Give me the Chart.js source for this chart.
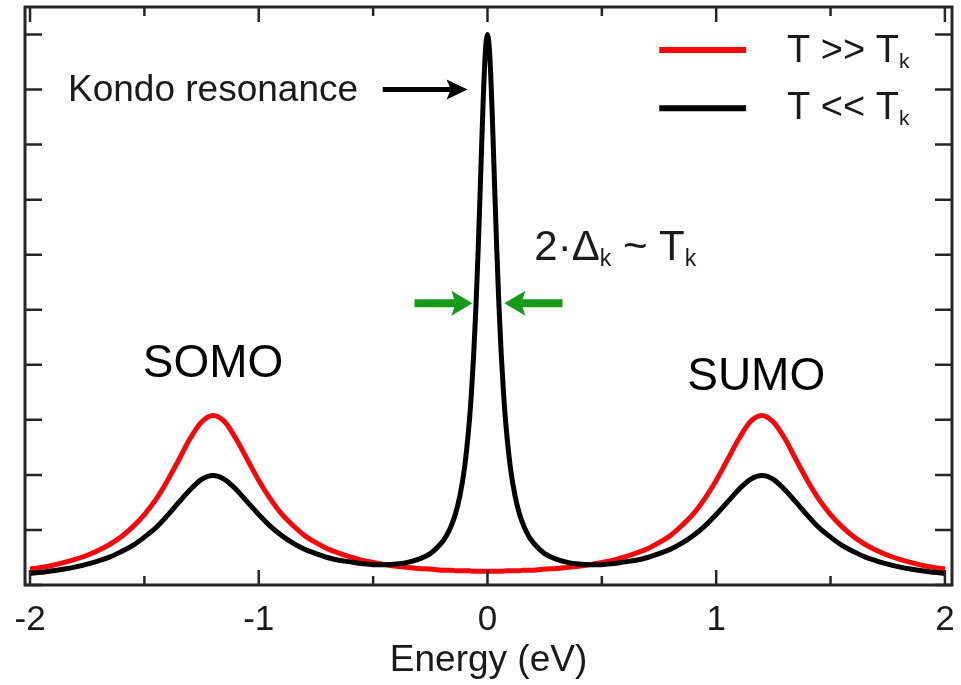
<!DOCTYPE html>
<html><head><meta charset="utf-8">
<script src="https://cdn.jsdelivr.net/npm/chart.js@4/dist/chart.umd.min.js"></script>
<style>html,body{margin:0;padding:0;background:#fff}canvas{display:block}</style>
</head><body>
<canvas id="c" width="961" height="685"></canvas>
<script>
// Energy grid (eV)
const energy = [-2.0,-1.95,-1.9,-1.85,-1.8,-1.75,-1.7,-1.65,-1.6,-1.55,-1.5,-1.45,-1.4,-1.35,-1.3,-1.25,-1.2,-1.15,-1.1,-1.05,-1.0,-0.95,-0.9,-0.85,-0.8,-0.75,-0.7,-0.65,-0.6,-0.55,-0.5,-0.45,-0.4,-0.35,-0.3,-0.25,-0.2,-0.18,-0.16,-0.14,-0.12,-0.1,-0.08,-0.07,-0.06,-0.05,-0.04,-0.03,-0.02,-0.01,
  0,0.01,0.02,0.03,0.04,0.05,0.06,0.07,0.08,0.1,0.12,0.14,0.16,0.18,0.2,0.25,0.3,0.35,0.4,0.45,0.5,0.55,0.6,0.65,0.7,0.75,0.8,0.85,0.9,0.95,1.0,1.05,1.1,1.15,1.2,1.25,1.3,1.35,1.4,1.45,1.5,1.55,1.6,1.65,1.7,1.75,1.8,1.85,1.9,1.95,2.0];
// T >> Tk (red)
const dosHighT = [0.29,0.32,0.36,0.41,0.47,0.54,0.63,0.74,0.88,1.06,1.28,1.55,1.89,2.27,2.66,2.96,3.08,2.97,2.66,2.28,1.90,1.57,1.29,1.08,0.90,0.77,0.66,0.58,0.51,0.45,0.41,0.37,0.34,0.32,0.30,0.29,0.27,0.27,0.27,0.26,0.26,0.26,0.26,0.25,0.25,0.25,0.25,0.25,0.25,0.25,
  0.25,0.25,0.25,0.25,0.25,0.25,0.25,0.25,0.26,0.26,0.26,0.26,0.27,0.27,0.27,0.29,0.30,0.32,0.34,0.37,0.41,0.45,0.51,0.58,0.66,0.77,0.90,1.08,1.29,1.57,1.90,2.28,2.66,2.97,3.08,2.96,2.66,2.27,1.89,1.55,1.28,1.06,0.88,0.74,0.63,0.54,0.47,0.41,0.36,0.32,0.29];
// T << Tk (black)
const dosLowT = [0.21,0.23,0.26,0.29,0.33,0.38,0.44,0.51,0.61,0.72,0.87,1.04,1.26,1.50,1.73,1.92,1.99,1.92,1.74,1.51,1.28,1.07,0.90,0.76,0.65,0.57,0.50,0.45,0.42,0.39,0.37,0.37,0.38,0.41,0.47,0.57,0.77,0.89,1.06,1.29,1.63,2.14,2.94,3.50,4.21,5.09,6.17,7.40,8.65,9.63,
  10.0,9.63,8.65,7.40,6.17,5.09,4.21,3.50,2.94,2.14,1.63,1.29,1.06,0.89,0.77,0.57,0.47,0.41,0.38,0.37,0.37,0.39,0.42,0.45,0.50,0.57,0.65,0.76,0.90,1.07,1.28,1.51,1.74,1.92,1.99,1.92,1.73,1.50,1.26,1.04,0.87,0.72,0.61,0.51,0.44,0.38,0.33,0.29,0.26,0.23,0.21];

const xMajorTicks = [-2,-1,0,1,2];
const xMajorLabels = ['-2','-1','0','1','2'];
const xMinorTicks = [-1.5,-0.5,0.5,1.5];
const yTicks = [0,1,2,3,4,5,6,7,8,9,10];
const seriesNames = ['T >> T','T << T'];
const seriesSub = 'k';
const xTitle = 'Energy (eV)';

const FONT = '"Liberation Sans", Arial, Helvetica, sans-serif';

function drawSubText(ctx, parts, x, y, size, subSize, subDrop, color, align) {
  ctx.fillStyle = color;
  ctx.textBaseline = 'alphabetic';
  ctx.textAlign = 'left';
  let total = 0;
  parts.forEach(p => { ctx.font = (p.sub ? subSize : size) + 'px ' + FONT; total += ctx.measureText(p.t).width; });
  let cx = align === 'center' ? x - total / 2 : x;
  parts.forEach(p => {
    ctx.font = (p.sub ? subSize : size) + 'px ' + FONT;
    ctx.fillText(p.t, cx, p.sub ? y + subDrop : y);
    cx += ctx.measureText(p.t).width;
  });
}
function arrow(ctx, x0, y0, x1, y1, color, w, hl, hw) {
  const dir = Math.sign(x1 - x0);
  ctx.fillStyle = color; ctx.strokeStyle = color;
  ctx.lineWidth = w; ctx.lineCap = 'butt';
  ctx.beginPath(); ctx.moveTo(x0, y0); ctx.lineTo(x1 - dir * hl * 0.8, y1); ctx.stroke();
  ctx.beginPath();
  ctx.moveTo(x1, y1);
  ctx.lineTo(x1 - dir * hl, y1 - hw / 2);
  ctx.lineTo(x1 - dir * hl * 0.8, y1);
  ctx.lineTo(x1 - dir * hl, y1 + hw / 2);
  ctx.closePath(); ctx.fill();
}

const decor = {
  id: 'decor',
  afterDatasetsDraw(chart) {
    const {ctx, chartArea: a, scales: {x, y}} = chart;
    const X = v => x.getPixelForValue(v), Y = v => y.getPixelForValue(v);
    ctx.save();
    // frame
    ctx.strokeStyle = '#262626';
    ctx.lineWidth = 3;
    ctx.strokeRect(a.left, a.top, a.right - a.left, a.bottom - a.top);
    ctx.lineWidth = 2.5;
    ctx.beginPath();
    xMajorTicks.forEach(v => { const p = X(v); ctx.moveTo(p, a.bottom); ctx.lineTo(p, a.bottom - 15); ctx.moveTo(p, a.top); ctx.lineTo(p, a.top + 15); });
    xMinorTicks.forEach(v => { const p = X(v); ctx.moveTo(p, a.bottom); ctx.lineTo(p, a.bottom - 9); ctx.moveTo(p, a.top); ctx.lineTo(p, a.top + 9); });
    yTicks.forEach(v => { const p = Y(v); ctx.moveTo(a.left, p); ctx.lineTo(a.left + 17, p); ctx.moveTo(a.right, p); ctx.lineTo(a.right - 17, p); });
    ctx.stroke();

    // legend
    const ds = chart.data.datasets;
    ctx.lineWidth = 6; ctx.lineCap = 'butt';
    [[ds[0].borderColor, 9.72, 9.50, seriesNames[0]], [ds[1].borderColor, 8.66, 8.465, seriesNames[1]]].forEach(([col, ly, ty, name]) => {
      ctx.strokeStyle = col;
      ctx.beginPath(); ctx.moveTo(X(0.751), Y(ly)); ctx.lineTo(X(1.131), Y(ly)); ctx.stroke();
      drawSubText(ctx, [{t: name}, {t: seriesSub, sub: true}], X(1.31), Y(ty), 38, 21, 6, '#1a1a1a', 'left');
    });

    // annotations
    ctx.font = '37px ' + FONT; ctx.fillStyle = '#1a1a1a'; ctx.textAlign = 'left'; ctx.textBaseline = 'alphabetic';
    ctx.fillText('Kondo resonance', X(-1.834), Y(8.79));
    arrow(ctx, X(-0.458), Y(9.0), X(-0.087), Y(9.0), '#000', 5, 21, 20);

    drawSubText(ctx, [{t: '2\u00b7\u0394'}, {t: 'k', sub: true}, {t: ' ~ T'}, {t: 'k', sub: true}], X(0.205), Y(5.90), 42, 23, 6, '#1a1a1a', 'left');
    arrow(ctx, X(-0.319), Y(5.12), X(-0.066), Y(5.12), '#17991a', 8, 21, 25);
    arrow(ctx, X(0.328), Y(5.12), X(0.074), Y(5.12), '#17991a', 8, 21, 25);

    ctx.font = '46px ' + FONT; ctx.fillStyle = '#000'; ctx.textAlign = 'center';
    ctx.fillText('SOMO', X(-1.2), Y(3.78));
    ctx.fillText('SUMO', X(1.175), Y(3.54));
    ctx.restore();
  }
};

new Chart(document.getElementById('c'), {
  type: 'line',
  data: {
    datasets: [
      { label: seriesNames[0] + seriesSub, data: energy.map((e, i) => ({x: e, y: dosHighT[i]})), borderColor: '#f5080a', borderWidth: 5, pointRadius: 0, cubicInterpolationMode: 'monotone', order: 2 },
      { label: seriesNames[1] + seriesSub, data: energy.map((e, i) => ({x: e, y: dosLowT[i]})), borderColor: '#000000', borderWidth: 5, pointRadius: 0, cubicInterpolationMode: 'monotone', order: 1 }
    ]
  },
  options: {
    responsive: false, animation: false, devicePixelRatio: 1,
    layout: { padding: { top: 7, left: 25, right: 9, bottom: 0 } },
    plugins: { legend: { display: false }, tooltip: { enabled: false } },
    scales: {
      x: {
        type: 'linear', min: -2.022, max: 2.031,
        grid: { display: false, drawTicks: false, tickLength: 0 }, border: { display: false },
        afterBuildTicks: s => { s.ticks = xMajorTicks.map(v => ({value: v})); },
        afterFit: s => { s.height = 100; s.paddingLeft = 0; s.paddingRight = 0; },
        ticks: { autoSkip: false, maxRotation: 0, padding: 14, color: '#1a1a1a',
          font: { family: FONT, size: 35, lineHeight: 1.2 },
          callback: v => xMajorLabels[xMajorTicks.indexOf(v)] },
        title: { display: true, text: xTitle, color: '#1a1a1a', padding: { top: 0, bottom: 6 },
          font: { family: FONT, size: 37, lineHeight: 1 } }
      },
      y: { type: 'linear', min: 0, max: 10.5, display: false }
    }
  },
  plugins: [decor]
});
</script>
</body></html>
